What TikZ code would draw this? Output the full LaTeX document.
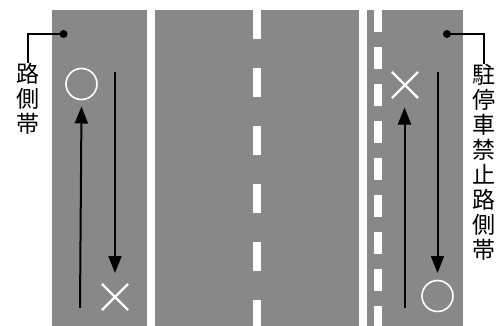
\documentclass[tikz,border=0pt]{standalone}
\usepackage{fontspec}
\newfontfamily\cjk{Noto Sans CJK JP}
\usetikzlibrary{arrows.meta,shapes.misc}
\definecolor{road}{RGB}{136,136,136}

\begin{document}
\begin{tikzpicture}[x=1pt,y=-1pt,
    lane/.style={white,line width=7.5pt},
    trail/.style={black,line width=2pt,-{Triangle[length=17pt,width=13pt]}},
    okmark/.style={circle,draw=white,line width=1.6pt,minimum size=31pt,inner sep=0pt},
    ngmark/.style={cross out,draw=white,line width=2.2pt,minimum size=24pt,inner sep=0pt},
    callout/.style={font=\cjk\fontsize{23}{25}\selectfont,align=center,inner sep=0pt,anchor=north}]
  \useasboundingbox (0,0) rectangle (500,326);
  \fill[road] (52,10) rectangle (462.5,326);
  % lane lines
  \draw[lane] (151,10) -- (151,326);
  \draw[lane] (363,10) -- (363,326);
  \draw[lane,dash pattern=on 29pt off 29pt] (257,10) -- (257,326);
  \draw[lane,line width=8pt,dash pattern=on 22pt off 15pt] (378,10) -- (378,326);
  % left strip
  \node[okmark] (okL) at (81.5,84) {};
  \node[ngmark] (ngL) at (115,297) {};
  \coordinate (upL) at (80,308);
  \coordinate (dnL) at (115,72);
  \draw[trail] (upL) -- (okL.south |- 0,106.5);
  \draw[trail] (dnL) -- (ngL.north |- 0,273);
  % right strip
  \node[ngmark] (ngR) at (405,85) {};
  \node[okmark] (okR) at (437.5,296) {};
  \coordinate (upR) at (404.5,308);
  \coordinate (dnR) at (437.5,72);
  \draw[trail] (upR) -- (upR |- 0,107.5);
  \draw[trail] (dnR) -- (dnR |- 0,273);
  % callouts
  \coordinate (dotL) at (63.5,34);
  \coordinate (dotR) at (447,34);
  \fill (dotL) circle (4pt);
  \fill (dotR) circle (4pt);
  \node[callout] (tagL) at (28,63) {路\\側\\帯};
  \node[callout] (tagR) at (484,64) {駐\\停\\車\\禁\\止\\路\\側\\帯};
  \draw[line width=2pt] (dotL) -| (tagL.north);
  \draw[line width=2pt] (dotR) -| (tagR.north);
\end{tikzpicture}
\end{document}
